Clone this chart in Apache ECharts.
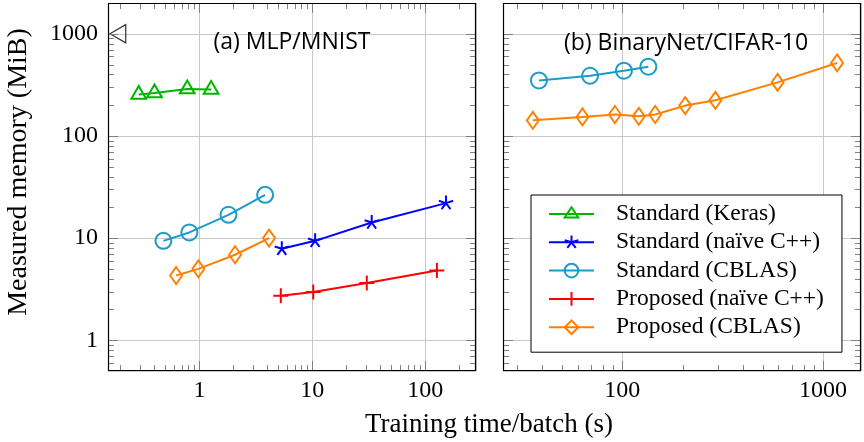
<!DOCTYPE html>
<html><head><meta charset="utf-8">
<script src="https://cdn.jsdelivr.net/npm/echarts@6/dist/echarts.min.js"></script>
<style>html,body{margin:0;padding:0;background:#fff}#c{width:864px;height:442px}</style>
</head><body><div id="c"></div>
<script>
// ---- data ----
const seriesNames = ['Standard (Keras)', 'Standard (naïve C++)', 'Standard (CBLAS)', 'Proposed (naïve C++)', 'Proposed (CBLAS)'];
// (a) MLP/MNIST
const kerasX = [0.29, 0.40, 0.78, 1.27];
const kerasY = [254, 263, 288, 284];
const stdNaiveX = [5.37, 10.6, 33.6, 153];
const stdNaiveY = [7.85, 9.4, 14.2, 22.0];
const stdCblasAX = [0.48, 0.815, 1.81, 3.82];
const stdCblasAY = [9.4, 11.35, 16.9, 26.5];
const propNaiveX = [5.26, 10.2, 30.4, 127];
const propNaiveY = [2.73, 2.97, 3.63, 4.82];
const propCblasAX = [0.622, 0.98, 2.07, 4.14];
const propCblasAY = [4.3, 5.0, 6.87, 10.0];
const oomX = [0.20];
const oomY = [1000];
// (b) BinaryNet/CIFAR-10
const stdCblasBX = [38.5, 69.2, 102, 135];
const stdCblasBY = [349, 388, 435, 476];
const propCblasBX = [35.9, 63.4, 92.0, 121, 146, 206, 291, 594, 1175];
const propCblasBY = [142, 153.5, 162, 155.5, 162, 198, 223, 334, 518];
// axis ranges
const xRangeA = [0.155, 282];
const xRangeB = [25.5, 1546];
const yRange = [0.5, 2000];

const zip = (xs, ys) => xs.map((x, i) => [x, ys[i]]);

const colors = {keras: '#00b400', stdNaive: '#0000ff', stdCblas: '#1b9bc8', propNaive: '#ff0000', propCblas: '#ff8000'};
const SERIF = 'Liberation Serif';
const triPath = 'path://M0,1M0,-1L0.866,0.5L-0.866,0.5Z';
const starPath = 'path://M0,1M0,0L0,-1M0,0L-0.951,-0.309M0,0L-0.588,0.809M0,0L0.588,0.809M0,0L0.951,-0.309';
const plusPath = 'path://M0,-1L0,1M-1,0L1,0';

function lineSeries(name, gi, data, color, symbol, size) {
  return {
    type: 'line', name, xAxisIndex: gi, yAxisIndex: gi, data,
    symbol, symbolSize: size, symbolKeepAspect: true, showAllSymbol: true,
    lineStyle: {color, width: 2},
    itemStyle: {color: 'rgba(255,255,255,0)', borderColor: color, borderWidth: 2},
    emphasis: {disabled: true}, z: 3
  };
}

function logTicks(r) {
  const out = [];
  const k0 = Math.floor(Math.log10(r[0])), k1 = Math.ceil(Math.log10(r[1]));
  for (let k = k0; k <= k1; k++) {
    for (let m = 1; m <= 9; m++) {
      const v = m * Math.pow(10, k);
      if (v > r[0] * 1.0001 && v < r[1] * 0.9999) out.push({v, major: m === 1});
    }
  }
  return out;
}

function frameSeries(gi, xr, yr) {
  return {
    type: 'custom', xAxisIndex: gi, yAxisIndex: gi, z: 10, silent: true, clip: false,
    data: [[xr[0] * 1.01, yr[0] * 1.01]],
    renderItem: function (params, api) {
      const cs = params.coordSys;
      const x0 = cs.x, y0 = cs.y, x1 = cs.x + cs.width, y1 = cs.y + cs.height;
      const ch = [];
      const st = {stroke: '#808080', lineWidth: 1};
      logTicks(xr).forEach(t => {
        const px = Math.round(api.coord([t.v, yr[0]])[0]) + 0.5;
        const L = t.major ? 10 : 6;
        ch.push({type: 'line', shape: {x1: px, y1: y1, x2: px, y2: y1 - L}, style: st});
        ch.push({type: 'line', shape: {x1: px, y1: y0, x2: px, y2: y0 + L}, style: st});
      });
      logTicks(yr).forEach(t => {
        const py = Math.round(api.coord([xr[0], t.v])[1]) + 0.5;
        const L = t.major ? 10 : 6;
        ch.push({type: 'line', shape: {x1: x0, y1: py, x2: x0 + L, y2: py}, style: st});
        ch.push({type: 'line', shape: {x1: x1, y1: py, x2: x1 - L, y2: py}, style: st});
      });
      ch.push({type: 'rect', shape: {x: Math.round(x0) + 0.5, y: Math.round(y0) + 0.5, width: Math.round(cs.width) - 1, height: Math.round(cs.height) - 1},
        style: {fill: 'none', stroke: '#000', lineWidth: 1.2}});
      return {type: 'group', children: ch};
    }
  };
}

const decadeLabel = v => {
  const l = Math.log10(v);
  return Math.abs(l - Math.round(l)) < 1e-6 ? String(Math.round(v)) : '';
};

function xAxis(gi, r) {
  return {
    type: 'log', logBase: 10, gridIndex: gi, min: r[0], max: r[1],
    axisLine: {show: false}, axisTick: {show: false},
    splitLine: {show: true, lineStyle: {color: '#c8c8c8', width: 1}},
    axisLabel: {formatter: decadeLabel, fontFamily: SERIF, fontSize: 24, color: '#000', margin: 8, showMinLabel: true, showMaxLabel: true}
  };
}
function yAxis(gi, showLabel) {
  return {
    type: 'log', logBase: 10, gridIndex: gi, min: yRange[0], max: yRange[1],
    axisLine: {show: false}, axisTick: {show: false},
    splitLine: {show: true, lineStyle: {color: '#c8c8c8', width: 1}},
    axisLabel: {show: showLabel, formatter: decadeLabel, fontFamily: SERIF, fontSize: 24, color: '#000', margin: 10}
  };
}

const chart = echarts.init(document.getElementById('c'), null, {renderer: 'canvas'});
chart.setOption({
  animation: false,
  backgroundColor: '#fff',
  grid: [
    {left: 108, top: 3, width: 368, height: 368},
    {left: 503, top: 3, width: 361, height: 368}
  ],
  xAxis: [xAxis(0, xRangeA), xAxis(1, xRangeB)],
  yAxis: [yAxis(0, true), yAxis(1, false)],
  legend: {
    data: seriesNames, orient: 'vertical', left: 531, top: 195,
    padding: [7, 18, 13, 17], itemWidth: 45, itemHeight: 17, itemGap: 4.3,
    backgroundColor: '#fff', borderColor: '#000', borderWidth: 1, borderRadius: 0,
    textStyle: {fontFamily: SERIF, fontSize: 23.5, color: '#000', lineHeight: 22, padding: [0, 0, 0, 17]},
    selectedMode: false
  },
  graphic: [
    {type: 'text', x: 292, y: 42, z: 5, style: {text: '(a) MLP/MNIST', font: '23px "Open Sans"', fill: '#000', align: 'center', verticalAlign: 'middle'}},
    {type: 'text', x: 686, y: 43, z: 5, style: {text: '(b) BinaryNet/CIFAR-10', font: '23px "Open Sans"', fill: '#000', align: 'center', verticalAlign: 'middle'}},
    {type: 'text', x: 489, y: 425, z: 5, style: {text: 'Training time/batch (s)', font: '27px "Liberation Serif"', fill: '#000', align: 'center', verticalAlign: 'middle'}},
    {type: 'text', x: 19, y: 172, rotation: Math.PI / 2, z: 5, style: {text: 'Measured memory (MiB)', font: '28px "Liberation Serif"', fill: '#000', align: 'center', verticalAlign: 'middle'}}
  ],
  series: [
    lineSeries(seriesNames[0], 0, zip(kerasX, kerasY), colors.keras, triPath, 17),
    lineSeries(seriesNames[1], 0, zip(stdNaiveX, stdNaiveY), colors.stdNaive, starPath, 15),
    lineSeries(seriesNames[2], 0, zip(stdCblasAX, stdCblasAY), colors.stdCblas, 'circle', 16),
    lineSeries(seriesNames[3], 0, zip(propNaiveX, propNaiveY), colors.propNaive, plusPath, 15),
    lineSeries(seriesNames[4], 0, zip(propCblasAX, propCblasAY), colors.propCblas, 'diamond', [12, 17]),
    lineSeries(seriesNames[2], 1, zip(stdCblasBX, stdCblasBY), colors.stdCblas, 'circle', 16),
    lineSeries(seriesNames[4], 1, zip(propCblasBX, propCblasBY), colors.propCblas, 'diamond', [12, 17]),
    {
      type: 'scatter', name: 'oom', xAxisIndex: 0, yAxisIndex: 0, data: zip(oomX, oomY),
      symbol: triPath, symbolSize: 21, symbolKeepAspect: true, symbolRotate: 90,
      itemStyle: {color: 'rgba(255,255,255,0)', borderColor: '#000', borderWidth: 1.2}, z: 3, silent: true
    },
    frameSeries(0, xRangeA, yRange),
    frameSeries(1, xRangeB, yRange)
  ]
});
</script>
</body></html>
